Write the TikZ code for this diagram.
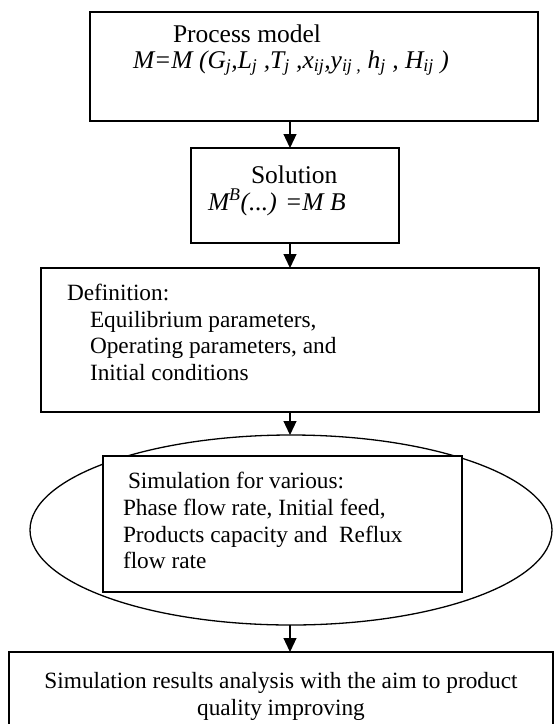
\documentclass[tikz,border=0pt]{standalone}
\usepackage{fontspec}
\setmainfont{Liberation Serif}
\usetikzlibrary{arrows.meta,shapes.geometric}
\newcommand\fbig{\fontsize{25.5}{29}\selectfont}
\newcommand\fmid{\fontsize{23.3}{26.8}\selectfont}
\tikzset{
  boxshape/.style={draw, line width=1.6pt, rectangle, inner sep=0pt, outer sep=0pt, anchor=north west},
  ovalshape/.style={draw, line width=1.3pt, ellipse, inner sep=0pt, outer sep=0pt},
  txt/.style={inner sep=0pt, outer sep=0pt, anchor=base west},
  txtc/.style={inner sep=0pt, outer sep=0pt, anchor=base},
  arr/.style={line width=1.2pt, -{Triangle[length=14pt,width=13pt]}}
}
\begin{document}
\begin{tikzpicture}[x=1pt,y=-1pt]
\useasboundingbox (0,0) rectangle (554,724);
% boxes
\node[boxshape, minimum width=448pt, minimum height=109pt] (b1) at (90,12) {};
\node[boxshape, minimum width=208pt, minimum height=95pt] (b2) at (191,148) {};
\node[boxshape, minimum width=498pt, minimum height=144pt] (b3) at (41,268) {};
\node[ovalshape, minimum width=522pt, minimum height=190pt] (el) at (291,530) {};
\node[boxshape, fill=white, minimum width=359pt, minimum height=136pt] (b4) at (103,456) {};
\node[boxshape, minimum width=544pt, minimum height=90pt] (b5) at (9,652) {};
% texts
\node[txt] (t1a) at (173,42) {\fbig Process model};
\node[txt] (t1b) at (133,68) {\fbig\itshape M=M (G\textsubscript{j},L\textsubscript{j} ,T\textsubscript{j} ,x\textsubscript{ij},y\textsubscript{ij ,} h\textsubscript{j} , H\textsubscript{ij} )};
\node[txt] (t2a) at (251,183) {\fbig Solution};
\node[txt] (t2b) at (208,210) {\fbig\itshape M\textsuperscript{B}(...) =M B};
\node[txt] (t3a) at (67,300) {\fmid Definition:};
\node[txt] (t3b) at (90,327) {\fmid Equilibrium parameters,};
\node[txt] (t3c) at (90,353) {\fmid Operating parameters, and};
\node[txt] (t3d) at (90,380) {\fmid Initial conditions};
\node[txt] (t4a) at (128,488) {\fmid Simulation for various:};
\node[txt] (t4b) at (123,515) {\fmid Phase flow rate, Initial feed,};
\node[txt] (t4c) at (123,542) {\fmid Products capacity and~ Reflux};
\node[txt] (t4d) at (123,568) {\fmid flow rate};
\node[txtc] (t5a) at (281,688) {\fmid Simulation results analysis with the aim to product};
\node[txtc] (t5b) at (281,715) {\fmid quality improving};
% connectors
\coordinate (ax) at (290,0);
\draw[arr] (b1.south -| ax) -- (b2.north -| ax);
\draw[arr] (b2.south -| ax) -- (b3.north -| ax);
\draw[arr] (b3.south -| ax) -- (el.north -| ax);
\draw[arr] (el.south -| ax) -- (b5.north -| ax);
\end{tikzpicture}
\end{document}
